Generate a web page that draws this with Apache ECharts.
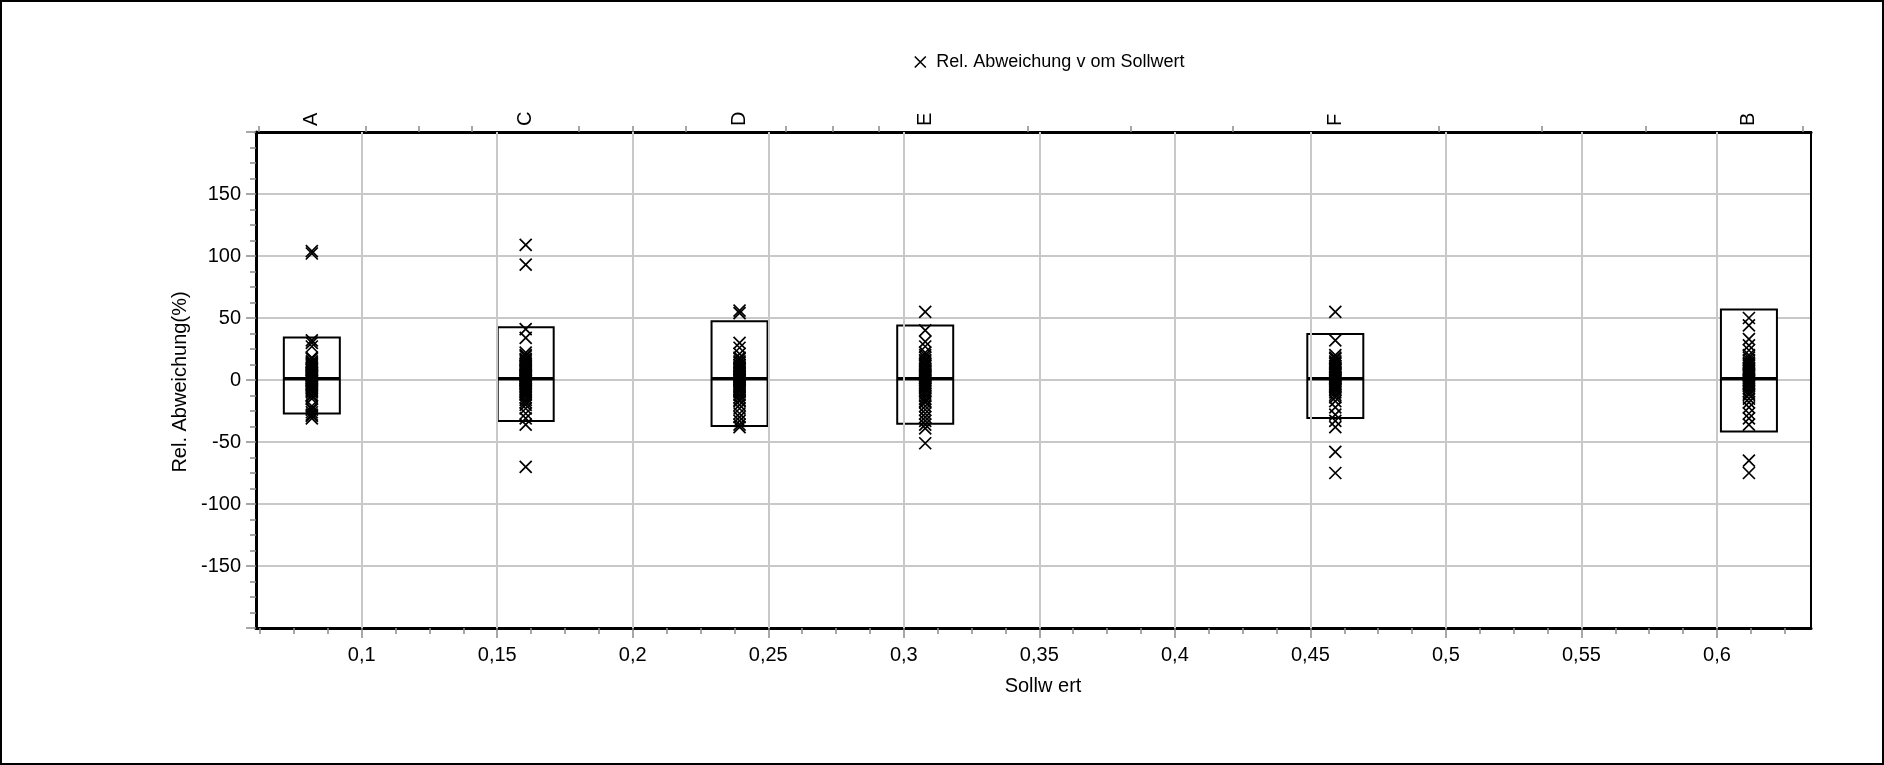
<!DOCTYPE html>
<html><head><meta charset="utf-8">
<script src="https://cdn.jsdelivr.net/npm/echarts@6/dist/echarts.min.js"></script>
<style>html,body{margin:0;padding:0;background:#fff}#c{width:1884px;height:765px}</style>
</head><body><div id="c"></div>
<script>
// ---- data ----
const groupNames = ['A', 'C', 'D', 'E', 'F', 'B'];
const groupX = [0.0816, 0.1605, 0.2394, 0.3079, 0.4592, 0.6118];
const boxLow = [-27.1, -33.1, -37.1, -35.2, -30.6, -41.6];
const boxHigh = [34.2, 42.5, 47.3, 43.9, 37.1, 56.8];
const boxMedian = [1, 1, 1, 1, 1, 1];
const valuesA = [104, 102, 32, 30, 27, 18, 17, 15, 14, 13, 12, 11, 10, 9, 8, 7, 6, 5.5, 5, 4, 3.5, 3, 2, 1.5, 1, 0, -0.5, -1, -2, -2.5, -3, -4, -5, -6, -7, -8, -9, -10, -12, -13, -15, -21, -23, -24, -26, -28, -29, -31];
const valuesC = [109, 93, 41, 34, 22, 20, 19, 17, 16, 15, 13, 12, 11, 10, 9, 8, 7, 6, 5, 4, 3.5, 3, 2, 1.5, 1, 0, -0.5, -1, -2, -3, -4, -5, -6, -7, -8, -9, -10, -11, -12, -14, -16, -18, -20, -23, -27, -31, -36, -70];
const valuesD = [56, 54, 30, 26, 21, 18, 17, 15, 14, 12, 11, 10, 9, 8, 7, 6, 5, 4, 3, 2.5, 2, 1, 0.5, 0, -1, -2, -3, -4, -5, -6, -7, -8, -9, -10, -12, -14, -16, -17, -20, -23, -27, -30, -33, -36, -38];
const valuesE = [55, 40, 31, 27, 22, 20, 18, 16, 15, 13, 12, 11, 9, 8, 7, 6, 5, 4, 3, 2, 1.5, 1, 0, -1, -2, -3, -4, -5, -6, -7, -9, -11, -13, -15, -17, -18, -21, -24, -27, -30, -33, -36, -39, -51];
const valuesF = [55, 32, 20, 18, 17, 15, 14, 13, 11, 10, 9, 8, 7, 6, 5, 4, 3, 2, 1.5, 1, 0, -1, -2, -3, -4, -5, -6, -7, -8, -10, -12, -14, -17, -22, -28, -33, -38, -58, -75];
const valuesB = [50, 44, 33, 28, 24, 20, 18, 16, 14, 13, 12, 10, 9, 8, 7, 6, 5, 4, 3, 2, 1, 0, -1, -2, -3, -4, -5, -7, -9, -11, -12, -15, -18, -22, -27, -31, -36, -65, -75];
const xTickValues = [0.1, 0.15, 0.2, 0.25, 0.3, 0.35, 0.4, 0.45, 0.5, 0.55, 0.6];
const yTickValues = [-150, -100, -50, 0, 50, 100, 150];
const seriesName = 'Rel. Abweichung v om Sollwert';
const xAxisTitle = 'Sollw ert';
const yAxisTitle = 'Rel. Abweichung(%)';

// ---- derived ----
const groupValues = [valuesA, valuesC, valuesD, valuesE, valuesF, valuesB];
const X_MIN = 0.0610, X_MAX = 0.6347, Y_MIN = -200, Y_MAX = 200;
const scatterData = [];
groupValues.forEach((vals, i) => vals.forEach(v => scatterData.push([groupX[i], v])));
const boxData = groupX.map((x, i) => [x, boxLow[i], boxHigh[i], boxMedian[i]]);

const minorX = [];
for (let k = Math.ceil(X_MIN / 0.0125); k * 0.0125 <= X_MAX; k++) {
  if (k % 4 !== 0) minorX.push(+(k * 0.0125).toFixed(4));
}
const topTicks = [];
const firstStep = (groupX[1] - groupX[0]) / 4;
topTicks.push(groupX[0] - firstStep);
for (let i = 0; i < groupX.length - 1; i++) {
  const st = (groupX[i + 1] - groupX[i]) / 4;
  for (let k = 1; k < 4; k++) topTicks.push(groupX[i] + k * st);
}
topTicks.push(groupX[groupX.length - 1] + firstStep);

const FONT = 'Liberation Sans, Arial, sans-serif';
const XSYM = 'path://M0,0L10,10M0,10L10,0';
const tickGray = '#8a8a8a';
const fmtNum = v => String(+v.toFixed(2)).replace('.', ',');

const chart = echarts.init(document.getElementById('c'), null, {renderer: 'canvas'});
chart.setOption({
  animation: false,
  backgroundColor: '#fff',
  textStyle: {fontFamily: FONT},
  grid: {left: 256, right: 73, top: 132, bottom: 137, containLabel: false, outerBoundsMode: 'none'},
  legend: {
    data: [seriesName],
    left: 914, top: 53, padding: 0,
    itemWidth: 22, itemHeight: 11,
    icon: XSYM,
    itemStyle: {color: 'rgba(0,0,0,0)', borderColor: '#000', borderWidth: 1.6},
    textStyle: {fontSize: 18, color: '#000', fontFamily: FONT}
  },
  xAxis: [
    {
      type: 'value', position: 'bottom', min: X_MIN, max: X_MAX,
      axisLine: {show: true, onZero: false, lineStyle: {color: '#000', width: 3}},
      axisTick: {show: true, customValues: xTickValues, length: 10, lineStyle: {color: tickGray, width: 1.5}},
      axisLabel: {show: true, customValues: xTickValues, formatter: fmtNum, fontSize: 20, color: '#000', margin: 17, fontFamily: FONT},
      splitLine: {show: false}
    },
    {
      type: 'value', position: 'top', min: X_MIN, max: X_MAX,
      axisLine: {show: true, onZero: false, lineStyle: {color: '#000', width: 3}},
      axisTick: {show: true, customValues: topTicks, length: 6, lineStyle: {color: tickGray, width: 1.5}},
      axisLabel: {
        show: true, customValues: groupX, rotate: -90, margin: 6, fontSize: 20, color: '#000', fontFamily: FONT,
        formatter: v => { let best = 0; groupX.forEach((g, i) => { if (Math.abs(g - v) < Math.abs(groupX[best] - v)) best = i; }); return groupNames[best]; }
      },
      splitLine: {show: false}
    },
    {
      type: 'value', position: 'bottom', min: X_MIN, max: X_MAX,
      axisLine: {show: false, onZero: false},
      axisTick: {show: true, customValues: minorX, length: 6, lineStyle: {color: tickGray, width: 1.5}},
      axisLabel: {show: false},
      splitLine: {show: false}
    }
  ],
  yAxis: [
    {
      type: 'value', position: 'left', min: Y_MIN, max: Y_MAX, interval: 50,
      axisLine: {show: true, onZero: false, lineStyle: {color: '#000', width: 3}},
      axisTick: {show: true, length: 10, lineStyle: {color: tickGray, width: 1.5}},
      minorTick: {show: true, splitNumber: 4, length: 6, lineStyle: {color: tickGray, width: 1.5}},
      axisLabel: {show: true, customValues: yTickValues, fontSize: 20, color: '#000', margin: 15, fontFamily: FONT},
      splitLine: {show: true, lineStyle: {color: '#c8c8c8', width: 2}}
    },
    {
      type: 'value', position: 'right', min: Y_MIN, max: Y_MAX,
      axisLine: {show: true, onZero: false, lineStyle: {color: '#000', width: 2}},
      axisTick: {show: false}, axisLabel: {show: false}, splitLine: {show: false}
    }
  ],
  series: [
    {
      name: 'grid', type: 'scatter', data: [], xAxisIndex: 0, yAxisIndex: 0, z: 1, silent: true,
      markLine: {
        silent: true, symbol: 'none', label: {show: false},
        lineStyle: {color: '#c8c8c8', width: 2, type: 'solid'},
        data: xTickValues.map(v => ({xAxis: v}))
      }
    },
    {
      name: 'box', type: 'custom', xAxisIndex: 0, yAxisIndex: 0, z: 2, data: boxData,
      renderItem: (params, api) => {
        const x = api.value(0);
        const lo = api.coord([x, api.value(1)]);
        const hi = api.coord([x, api.value(2)]);
        const md = api.coord([x, api.value(3)]);
        const hw = 28;
        return {
          type: 'group',
          children: [
            {type: 'rect', shape: {x: lo[0] - hw, y: hi[1], width: hw * 2, height: lo[1] - hi[1]},
             style: {fill: '#fff', stroke: '#000', lineWidth: 2}},
            {type: 'line', shape: {x1: md[0] - hw, y1: md[1], x2: md[0] + hw, y2: md[1]},
             style: {stroke: '#000', lineWidth: 3.5}}
          ]
        };
      }
    },
    {
      name: seriesName, type: 'scatter', xAxisIndex: 0, yAxisIndex: 0, z: 3,
      symbol: XSYM, symbolSize: 12, data: scatterData,
      itemStyle: {color: 'rgba(0,0,0,0)', borderColor: '#000', borderWidth: 1.7, opacity: 1}
    }
  ],
  graphic: [
    {type: 'rect', shape: {x: 1, y: 1, width: 1882, height: 763}, style: {fill: 'none', stroke: '#000', lineWidth: 2}, silent: true},
    {type: 'text', x: 1043, y: 686, style: {text: xAxisTitle, font: '20px ' + FONT, fill: '#000', textAlign: 'center', textVerticalAlign: 'middle'}},
    {type: 'text', x: 180, y: 382, rotation: Math.PI / 2, style: {text: yAxisTitle, font: '20px ' + FONT, fill: '#000', textAlign: 'center', textVerticalAlign: 'middle'}}
  ]
});
</script></body></html>
